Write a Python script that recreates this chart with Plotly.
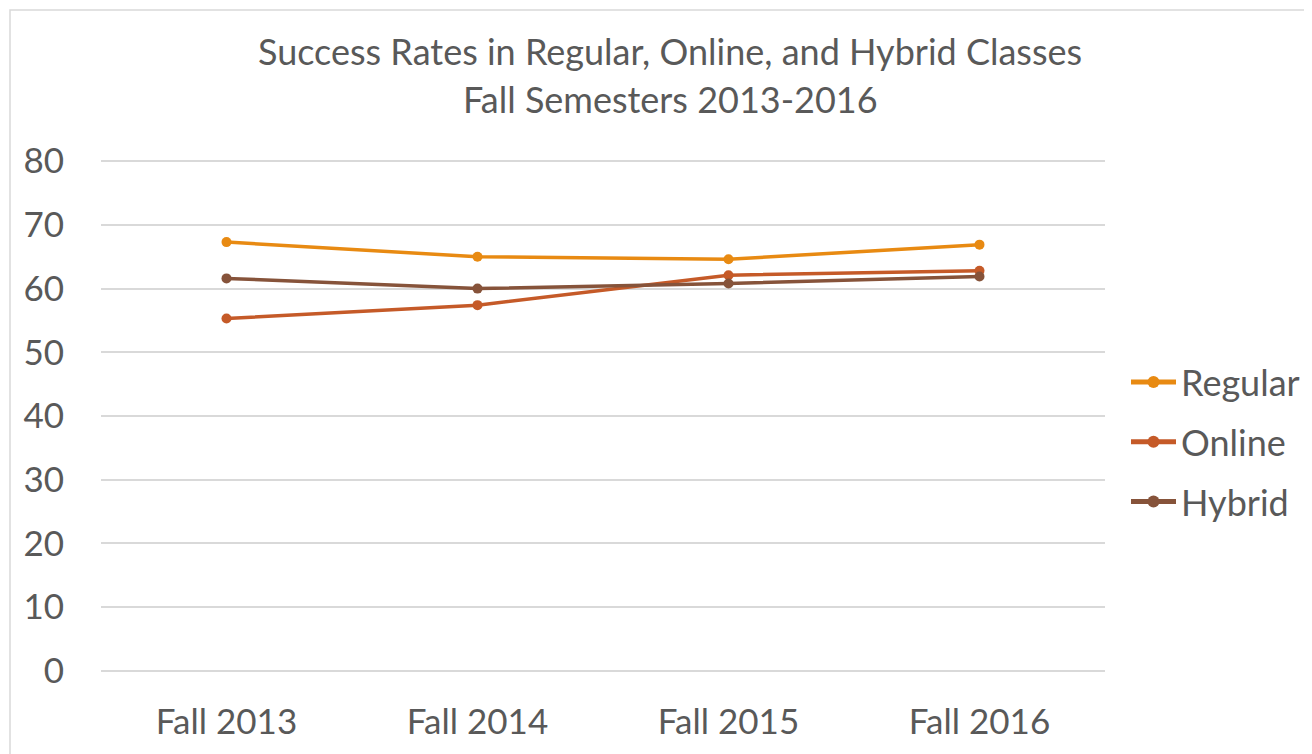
import plotly.graph_objects as go

categories = ["Fall 2013", "Fall 2014", "Fall 2015", "Fall 2016"]
regular = [67.3, 65.0, 64.6, 66.9]
online = [55.3, 57.4, 62.1, 62.8]
hybrid = [61.6, 60.0, 60.8, 61.9]
y_ticks = [0, 10, 20, 30, 40, 50, 60, 70, 80]
title_lines = ["Success Rates in Regular, Online, and Hybrid Classes", "Fall Semesters 2013-2016"]

series = [
    ("Regular", regular, "#E88A12"),
    ("Online", online, "#C55A28"),
    ("Hybrid", hybrid, "#86533A"),
]

W, H = 1312, 754
L, R, T, B = 93, 215, 150, 88
pw = W - L - R
ph = H - T - B

def px_to_paper(fx, fy):
    return (fx - L) / pw, (H - fy - B) / ph

font_family = "Lato, 'Open Sans', sans-serif"
text_color = "#595959"

fig = go.Figure()
for name, vals, color in series:
    fig.add_trace(go.Scatter(
        x=categories, y=vals, name=name, mode="lines+markers", legendgroup=name,
        line=dict(color=color, width=3.5),
        marker=dict(color=color, size=10),
    ))

anns = []
for text, fy in zip(title_lines, [43, 91]):
    ax, ay = px_to_paper(662, fy)
    anns.append(dict(text=text, x=ax, y=ay, xref="paper", yref="paper", showarrow=False,
                     xanchor="center", yanchor="middle",
                     font=dict(size=36, color=text_color, family=font_family)))

bx0, by0 = px_to_paper(2, 2)
bx1, by1 = px_to_paper(W + 20, H + 20)

lx, ly = px_to_paper(1118, 434)

fig.update_layout(
    width=W, height=H,
    paper_bgcolor="white", plot_bgcolor="white",
    margin=dict(l=L, r=R, t=T, b=B, autoexpand=False),
    font=dict(family=font_family, color=text_color, size=35),
    showlegend=True,
    legend=dict(x=lx, y=ly, xanchor="left", yanchor="middle",
                font=dict(size=36, color=text_color),
                tracegroupgap=10, itemsizing="constant", itemwidth=45),
    annotations=anns,
    shapes=[dict(type="rect", xref="paper", yref="paper", x0=bx0, y0=by1, x1=bx1, y1=by0,
                 line=dict(color="#D9D9D9", width=1.5), layer="below")],
)

fig.update_xaxes(type="category", range=[-0.5, 3.5], showgrid=False, showline=False,
                 zeroline=False, ticks="", tickfont=dict(size=35, color=text_color),
                 ticklabelstandoff=24)
fig.update_yaxes(range=[-0.5, 80.5], tickvals=y_ticks, showgrid=True, gridcolor="#D9D9D9",
                 gridwidth=1.5, zeroline=False, showline=False, ticks="",
                 tickfont=dict(size=35, color=text_color), ticklabelstandoff=36)

fig.write_html("out.html")
